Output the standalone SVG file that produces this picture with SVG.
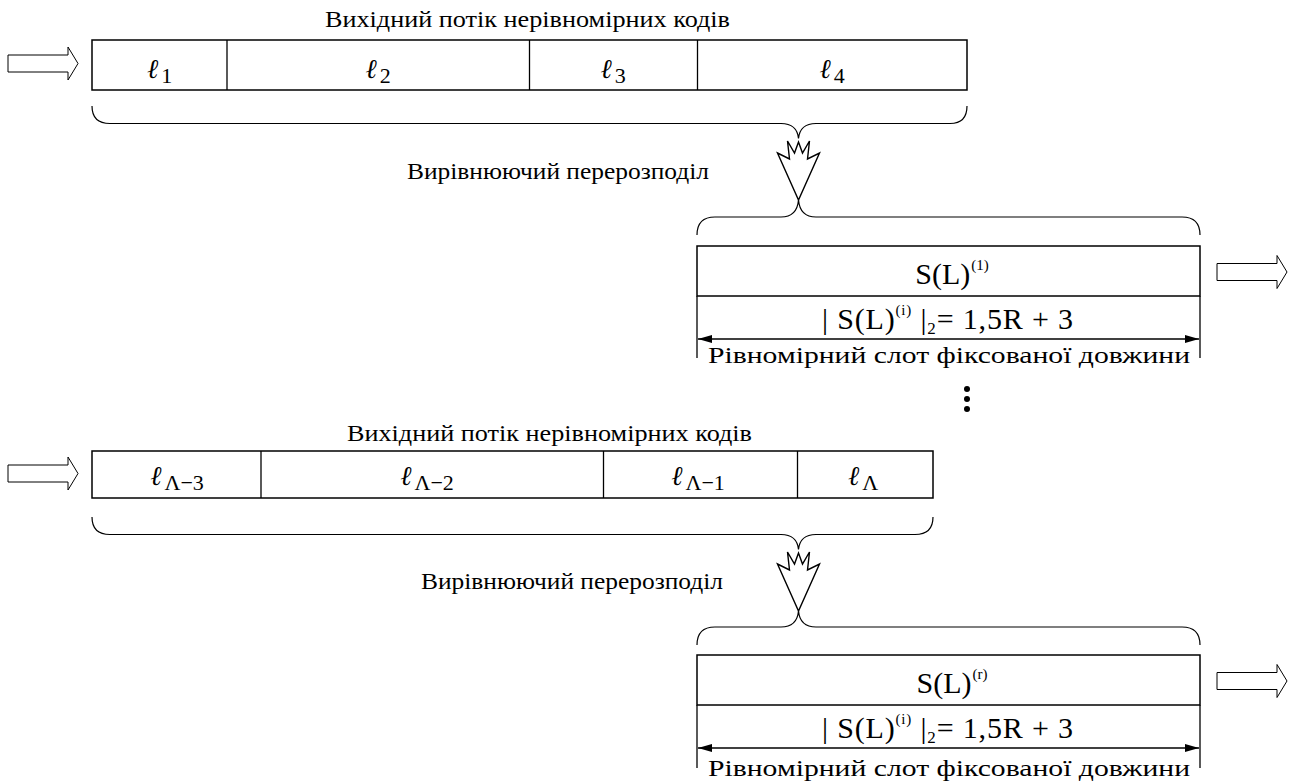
<svg xmlns="http://www.w3.org/2000/svg" width="1291" height="783" viewBox="0 0 1291 783">
<style>
text{font-family:"Liberation Serif","Times New Roman",serif;fill:#000}
.t{font-size:23px}
.ell{font-family:"Liberation Serif","DejaVu Serif",serif;font-style:italic;font-size:27px}
.sub{font-family:"Liberation Serif","Times New Roman",serif;font-style:normal;font-size:22px}
.lbl{font-size:30px}
.sup{font-size:15px}
.box{fill:#fff;stroke:#000;stroke-width:1.5}
.ln{fill:none;stroke:#000;stroke-width:1.3}
.br{fill:none;stroke:#000;stroke-width:1.2}
.arr{fill:#fff;stroke:#000;stroke-width:1}
.chev{fill:#fff;stroke:#000;stroke-width:1.4;stroke-linejoin:miter}
</style>
<defs>
<marker id="ah" viewBox="0 0 14 8" refX="14" refY="4" markerWidth="14" markerHeight="8" markerUnits="userSpaceOnUse" orient="auto-start-reverse">
<path d="M0,0 L14,4 L0,8 Z" fill="#000"/>
</marker>
<polygon id="bigarrow" points="0,-8.5 60,-8.5 60,-16.5 70,0 60,16.5 60,8.5 0,8.5" class="arr"/>
<polygon id="chevron" points="-21,-47 -9,-41 -11,-59 -4,-47 0,-58 4,-47 11,-59 9,-41 21,-47 0,0" class="chev"/>
</defs>

<!-- Section 1 -->
<g id="title1"><text class="t" x="325" y="27" textLength="405" lengthAdjust="spacingAndGlyphs">Вихідний потік нерівномірних кодів</text></g>
<g id="in1"><use href="#bigarrow" x="8" y="63.5"/></g>
<g id="row1">
<rect class="box" x="92" y="40" width="875" height="50"/>
<line class="ln" x1="227" y1="40" x2="227" y2="90"/>
<line class="ln" x1="529.5" y1="40" x2="529.5" y2="90"/>
<line class="ln" x1="697.5" y1="40" x2="697.5" y2="90"/>
</g>
<g id="l1"><text class="ell" x="159.5" y="78" text-anchor="middle">ℓ<tspan class="sub" dx="3" dy="5">1</tspan></text></g>
<g id="l2"><text class="ell" x="378" y="78" text-anchor="middle">ℓ<tspan class="sub" dx="3" dy="5">2</tspan></text></g>
<g id="l3"><text class="ell" x="613" y="78" text-anchor="middle">ℓ<tspan class="sub" dx="3" dy="5">3</tspan></text></g>
<g id="l4"><text class="ell" x="832" y="78" text-anchor="middle">ℓ<tspan class="sub" dx="3" dy="5">4</tspan></text></g>

<g id="redist1">
<path class="br" d="M92,106 Q92,123.5 110,123.5 L781,123.5 Q797,123.5 798.5,138.5 Q800,123.5 816,123.5 L950,123.5 Q967,123.5 967,106"/>
<use href="#chevron" x="798.5" y="200"/>
<path class="br" d="M697,235 Q697,217 715,217 L781,217 Q797,217 798.5,200 Q800,217 816,217 L1182,217 Q1200,217 1200,235"/>
<text class="t" x="407" y="179" textLength="302" lengthAdjust="spacingAndGlyphs">Вирівнюючий перерозподіл</text>
</g>

<g id="slot1">
<rect class="box" x="697" y="246" width="503" height="50"/>
<text class="lbl" x="952" y="284" text-anchor="middle">S(L)<tspan class="sup" dx="1" dy="-14">(1)</tspan></text>
<text class="lbl" x="822" y="329" textLength="251" lengthAdjust="spacing">| S(L)<tspan class="sup" dy="-14">(i)</tspan><tspan dy="14"> |</tspan><tspan font-size="17" dy="5">2</tspan><tspan dy="-5">= 1,5R + 3</tspan></text>
<line class="ln" x1="697" y1="296" x2="697" y2="358"/>
<line class="ln" x1="1200" y1="296" x2="1200" y2="358"/>
<line class="ln" x1="698" y1="339" x2="1199" y2="339" marker-start="url(#ah)" marker-end="url(#ah)"/>
<text class="t" x="708" y="363" textLength="482" lengthAdjust="spacingAndGlyphs">Рівномірний слот фіксованої довжини</text>
</g>
<g id="out1"><use href="#bigarrow" x="1217" y="272"/></g>

<g id="dots">
<circle cx="967" cy="389" r="3"/>
<circle cx="967" cy="399" r="3"/>
<circle cx="967" cy="409" r="3"/>
</g>

<!-- Section 2 -->
<g id="title2"><text class="t" x="347" y="441" textLength="405" lengthAdjust="spacingAndGlyphs">Вихідний потік нерівномірних кодів</text></g>
<g id="in2"><use href="#bigarrow" x="8" y="473.5"/></g>
<g id="row2">
<rect class="box" x="92" y="451" width="841" height="47"/>
<line class="ln" x1="261" y1="451" x2="261" y2="498"/>
<line class="ln" x1="603.5" y1="451" x2="603.5" y2="498"/>
<line class="ln" x1="797.5" y1="451" x2="797.5" y2="498"/>
</g>
<g id="l5"><text class="ell" x="177" y="485" text-anchor="middle">ℓ<tspan class="sub" dx="3" dy="5">Λ−3</tspan></text></g>
<g id="l6"><text class="ell" x="427" y="485" text-anchor="middle">ℓ<tspan class="sub" dx="3" dy="5">Λ−2</tspan></text></g>
<g id="l7"><text class="ell" x="698" y="485" text-anchor="middle">ℓ<tspan class="sub" dx="3" dy="5">Λ−1</tspan></text></g>
<g id="l8"><text class="ell" x="863" y="485" text-anchor="middle">ℓ<tspan class="sub" dx="3" dy="5">Λ</tspan></text></g>

<g id="redist2">
<path class="br" d="M92,517 Q92,534.5 110,534.5 L781,534.5 Q797,534.5 798.5,549.5 Q800,534.5 816,534.5 L915,534.5 Q933,534.5 933,517"/>
<use href="#chevron" x="798.5" y="611"/>
<path class="br" d="M697,645 Q697,627 715,627 L781,627 Q797,627 798.5,611 Q800,627 816,627 L1182,627 Q1200,627 1200,645"/>
<text class="t" x="421" y="589" textLength="302" lengthAdjust="spacingAndGlyphs">Вирівнюючий перерозподіл</text>
</g>

<g id="slot2">
<rect class="box" x="697" y="655" width="503" height="50"/>
<text class="lbl" x="952" y="693" text-anchor="middle">S(L)<tspan class="sup" dx="1" dy="-14">(r)</tspan></text>
<text class="lbl" x="822" y="738" textLength="251" lengthAdjust="spacing">| S(L)<tspan class="sup" dy="-14">(i)</tspan><tspan dy="14"> |</tspan><tspan font-size="17" dy="5">2</tspan><tspan dy="-5">= 1,5R + 3</tspan></text>
<line class="ln" x1="697" y1="705" x2="697" y2="768"/>
<line class="ln" x1="1200" y1="705" x2="1200" y2="768"/>
<line class="ln" x1="698" y1="748" x2="1199" y2="748" marker-start="url(#ah)" marker-end="url(#ah)"/>
<text class="t" x="708" y="776" textLength="482" lengthAdjust="spacingAndGlyphs">Рівномірний слот фіксованої довжини</text>
</g>
<g id="out2"><use href="#bigarrow" x="1217" y="681"/></g>
</svg>
